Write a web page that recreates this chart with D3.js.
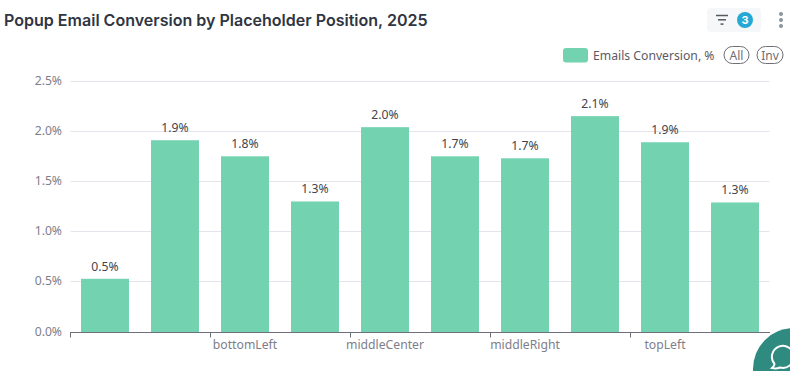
<!DOCTYPE html>
<html><head><meta charset="utf-8">
<script src="https://cdn.jsdelivr.net/npm/d3@7/dist/d3.min.js"></script>
<style>html,body{margin:0;padding:0;background:#fff;overflow:hidden}svg{display:block}</style>
</head><body><svg id="c" width="790" height="371"></svg>
<script>
const categories = ["", "bottomCenter", "bottomLeft", "bottomRight", "middleCenter", "middleLeft", "middleRight", "topCenter", "topLeft", "topRight"];
const shownLabels = ["", "bottomLeft", "middleCenter", "middleRight", "topLeft"];
const values = [0.53, 1.91, 1.75, 1.30, 2.04, 1.75, 1.73, 2.15, 1.89, 1.29];
const valueLabels = ["0.5%", "1.9%", "1.8%", "1.3%", "2.0%", "1.7%", "1.7%", "2.1%", "1.9%", "1.3%"];
const yTicks = [0, 0.5, 1, 1.5, 2, 2.5];
const seriesName = "Emails Conversion, %";
const title = "Popup Email Conversion by Placeholder Position, 2025";

const font = "'Noto Sans', sans-serif";
const svg = d3.select("#c");
const x = d3.scaleBand().domain(categories).range([70, 770]).paddingInner(22/70).paddingOuter(11/70);
const y = d3.scaleLinear().domain([0, 2.5]).range([332, 81]);
const color = "#73d2b0";
const snap = v => Math.floor(v) + 0.5;

svg.append("text").attr("x",4).attr("y",26).attr("font-family","Inter, sans-serif").attr("font-weight",600).attr("font-size",16.05).attr("fill","#2f3542").text(title);

// grid
svg.append("g").selectAll("line").data(yTicks.slice(1)).join("line")
  .attr("x1",70.5).attr("x2",769.5).attr("y1",d=>snap(y(d))).attr("y2",d=>snap(y(d))).attr("stroke","#e4e4ec");
svg.append("g").selectAll("text").data(yTicks).join("text")
  .attr("x",62).attr("y",d=>y(d)+3.5).attr("text-anchor","end").attr("font-family",font).attr("font-size",12.2).attr("fill","#7e7e8a")
  .text(d=>d.toFixed(1)+"%");

// bars
svg.append("g").selectAll("rect").data(values).join("rect")
  .attr("x",(d,i)=>x(categories[i])).attr("width",x.bandwidth())
  .attr("y",d=>y(d)).attr("height",d=>y(0)-y(d)).attr("fill",color);
svg.append("g").selectAll("text").data(values).join("text")
  .attr("x",(d,i)=>x(categories[i])+x.bandwidth()/2).attr("y",d=>y(d)-8).attr("text-anchor","middle")
  .attr("font-family",font).attr("font-size",12.2).attr("fill","#44444c").text((d,i)=>valueLabels[i]);

// x axis
const axisG = svg.append("g");
axisG.append("line").attr("x1",70).attr("x2",770).attr("y1",332.5).attr("y2",332.5).attr("stroke","#6e7079");
axisG.selectAll("line.t").data(categories.filter((c,i)=>i%2===0)).join("line").attr("class","t")
  .attr("x1",d=>x(d)-10.5).attr("x2",d=>x(d)-10.5).attr("y1",332.5).attr("y2",337.5).attr("stroke","#6e7079");
axisG.selectAll("text").data(shownLabels).join("text")
  .attr("x",d=>x(d)+x.bandwidth()/2).attr("y",348.5).attr("text-anchor","middle")
  .attr("font-family",font).attr("font-size",12.2).attr("fill","#7e7e8a").text(d=>d);

// legend
svg.append("rect").attr("x",563).attr("y",48).attr("width",25).attr("height",14.5).attr("rx",3).attr("fill",color);
svg.append("text").attr("x",593).attr("y",59.5).attr("font-family",font).attr("font-size",12.2).attr("fill","#5a5a64").text(seriesName);
[["All",736.5,12.5],["Inv",770,13]].forEach(([t,cx,rx])=>{
  svg.append("rect").attr("x",cx-rx).attr("y",46.5).attr("width",rx*2).attr("height",17).attr("rx",8.5).attr("fill","#fff").attr("stroke","#6e6e76");
  svg.append("text").attr("x",cx).attr("y",59.5).attr("text-anchor","middle").attr("font-family",font).attr("font-size",12).attr("fill","#6e6e76").text(t);
});

// filter button
svg.append("rect").attr("x",707).attr("y",8).attr("width",54).attr("height",24).attr("rx",4).attr("fill","#f6f7f8");
[[716,12],[718,8],[720.5,3]].forEach(([lx,w],i)=>{
  svg.append("line").attr("x1",lx).attr("x2",lx+w).attr("y1",15.5+i*4.3).attr("y2",15.5+i*4.3).attr("stroke","#555a60").attr("stroke-width",1.5);
});
svg.append("circle").attr("cx",745).attr("cy",20).attr("r",8).attr("fill","#25a9d4");
svg.append("text").attr("x",745).attr("y",24).attr("text-anchor","middle").attr("font-family","Inter, sans-serif").attr("font-weight",700).attr("font-size",11).attr("fill","#fff").text("3");
[14,20,26].forEach(cy=>svg.append("circle").attr("cx",781).attr("cy",cy).attr("r",2).attr("fill","#8a949c"));

// chat bubble
svg.append("circle").attr("cx",794).attr("cy",369).attr("r",41).attr("fill","#2f8a80");
svg.append("path").attr("d","M774.5 364a11 11 0 1 1 5.5 3.5q-4 1.5 -8 0.5q2.5 -2 2.5 -4z").attr("fill","none").attr("stroke","#fff").attr("stroke-width",2);
</script></body></html>
